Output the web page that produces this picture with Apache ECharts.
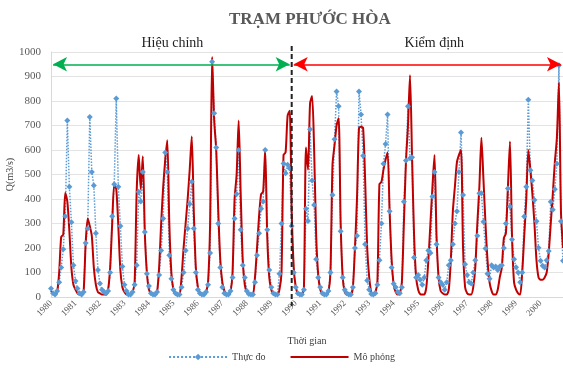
<!DOCTYPE html>
<html>
<head>
<meta charset="utf-8">
<script src="https://cdn.jsdelivr.net/npm/echarts@6/dist/echarts.min.js"></script>
<style>
  html, body { margin: 0; padding: 0; background: #fff; }
  #main { width: 563px; height: 368px; }
</style>
</head>
<body>
<div id="main"></div>
<script>
// nam quan trac (moi nam 12 thang)
var years = [1980, 1981, 1982, 1983, 1984, 1985, 1986, 1987, 1988, 1989, 1990,
             1991, 1992, 1993, 1994, 1995, 1996, 1997, 1998, 1999, 2000]
var monthNames = ['01', '02', '03', '04', '05', '06', '07', '08', '09', '10', '11', '12']

// luu luong thuc do Q (m3/s), tung thang
var observed = [
  35, 15, 10, 25, 60, 120, 195, 330, 720, 450, 305, 130,   // 1980
  65, 35, 15, 10, 20, 220, 280, 735, 510, 455, 260, 110,   // 1981
  55, 30, 20, 15, 25, 100, 330, 460, 810, 450, 290, 125,   // 1982
  50, 25, 10, 10, 20, 50, 130, 430, 390, 510, 265, 95,     // 1983
  45, 15, 10, 10, 20, 90, 190, 320, 590, 510, 170, 75,     // 1984
  30, 15, 10, 10, 40, 100, 190, 280, 380, 470, 280, 100,   // 1985
  30, 15, 10, 10, 20, 50, 180, 960, 750, 610, 300, 120,    // 1986
  40, 15, 10, 10, 25, 80, 320, 420, 600, 275, 130, 80,     // 1987
  25, 12, 10, 10, 60, 170, 260, 360, 390, 600, 275, 110,   // 1988
  40, 15, 10, 10, 95, 300, 545, 505, 540, 525, 290, 100,   // 1989
  40, 15, 10, 10, 30, 360, 310, 685, 476, 376, 154, 80,    // 1990
  40, 15, 10, 10, 25, 100, 416, 644, 839, 779, 268, 80,    // 1991
  30, 15, 10, 10, 40, 200, 250, 839, 745, 577, 215, 67,    // 1992
  30, 12, 10, 15, 50, 150, 300, 544, 624, 745, 350, 120,   // 1993
  54, 40, 20, 15, 40, 389, 557, 779, 566, 570, 161, 80,    // 1994
  90, 70, 50, 80, 150, 190, 180, 410, 510, 215, 80, 60,    // 1995
  50, 30, 60, 130, 150, 215, 300, 350, 510, 671, 416, 134, // 1996
  90, 60, 55, 100, 150, 250, 423, 423, 307, 198, 95, 75,   // 1997
  130, 120, 125, 110, 125, 130, 200, 300, 443, 369, 235, 154, // 1998
  121, 100, 60, 100, 329, 450, 805, 517, 476, 396, 309, 201,  // 1999
  148, 128, 120, 150, 188, 389, 356, 440, 544, 946, 309, 148  // 2000
]

// luu luong mo phong Q (m3/s)
var simulated = [
  25, 15, 10, 20, 100, 245, 255, 425, 390, 270, 120, 50,   // 1980
  30, 15, 10, 10, 25, 220, 320, 290, 250, 120, 50, 20,     // 1981
  15, 10, 10, 10, 30, 120, 300, 460, 440, 290, 110, 40,    // 1982
  20, 10, 10, 10, 20, 60, 430, 580, 440, 575, 260, 100,    // 1983
  30, 15, 10, 10, 20, 120, 300, 450, 560, 640, 300, 100,   // 1984
  30, 12, 10, 10, 80, 200, 300, 400, 520, 655, 350, 120,   // 1985
  40, 15, 10, 10, 20, 60, 300, 980, 720, 600, 350, 150,    // 1986
  60, 25, 12, 10, 20, 100, 400, 500, 720, 420, 150, 50,    // 1987
  20, 10, 10, 10, 80, 200, 330, 420, 430, 600, 250, 80,    // 1988
  30, 12, 10, 10, 30, 100, 580, 590, 740, 760, 350, 120,   // 1989
  40, 15, 10, 10, 40, 610, 520, 790, 820, 600, 250, 90,    // 1990
  30, 12, 10, 10, 20, 100, 540, 620, 700, 730, 300, 80,    // 1991
  20, 10, 10, 10, 40, 200, 400, 690, 695, 690, 480, 200,   // 1992
  80, 20, 10, 20, 60, 460, 470, 520, 560, 590, 350, 150,   // 1993
  50, 20, 10, 15, 60, 300, 550, 700, 905, 570, 250, 80,    // 1994
  30, 12, 10, 10, 40, 150, 300, 450, 580, 250, 80, 25,     // 1995
  15, 10, 10, 30, 150, 350, 450, 550, 580, 600, 200, 40,   // 1996
  15, 10, 10, 40, 120, 300, 450, 650, 480, 300, 150, 60,   // 1997
  25, 10, 10, 30, 80, 120, 240, 260, 450, 635, 250, 60,    // 1998
  30, 15, 10, 100, 250, 400, 600, 520, 420, 300, 150, 80,  // 1999
  70, 70, 80, 100, 180, 300, 420, 550, 650, 875, 350, 200  // 2000
]

// moc phan chia hieu chinh / kiem dinh va muc ve mui ten
var splitMonth = '1989-11'
var arrowLevel = 950
var calibRange = ['1980-02', '1989-10']
var validRange = ['1989-12', '2000-11']

var categories = []
years.forEach(function (y) {
  monthNames.forEach(function (m) { categories.push(y + '-' + m) })
})

var font = 'Liberation Serif'
var myChart = echarts.init(document.getElementById('main'))

myChart.setOption({
  animation: false,
  textStyle: { fontFamily: font },
  title: {
    text: 'TRẠM PHƯỚC HÒA',
    left: 224,
    top: 6,
    textStyle: { fontFamily: font, fontSize: 17, fontWeight: 'bold', color: '#595959' }
  },
  grid: { left: 51, right: 0, top: 52, bottom: 71, outerBoundsMode: 'none' },
  legend: {
    bottom: 1,
    left: 'center',
    itemWidth: 58,
    itemHeight: 8,
    itemGap: 24,
    data: [
      { name: 'Thực đo' },
      { name: 'Mô phỏng', itemStyle: { opacity: 0 } }  // chi hien duong, khong co cham
    ],
    textStyle: { fontFamily: font, fontSize: 10, color: '#404040' }
  },
  xAxis: {
    type: 'category',
    data: categories,
    boundaryGap: false,
    name: 'Thời gian',
    nameLocation: 'middle',
    nameGap: 39,
    nameMoveOverlap: false,
    nameTextStyle: { fontFamily: font, fontSize: 10, color: '#404040' },
    axisLine: { lineStyle: { color: '#d9d9d9' } },
    axisTick: { show: false },
    axisLabel: {
      interval: function (i) { return i % 12 === 0 },
      formatter: function (v) { return v.slice(0, 4) },
      rotate: 45,
      fontSize: 9,
      margin: 5,
      color: '#595959'
    },
    splitLine: { show: false }
  },
  yAxis: {
    type: 'value',
    min: 0,
    max: 1000,
    interval: 100,
    name: 'Q(m3/s)',
    nameLocation: 'middle',
    nameGap: 36,
    nameMoveOverlap: false,
    nameTextStyle: { fontFamily: font, fontSize: 10, color: '#404040' },
    axisLine: { show: true, lineStyle: { color: '#d9d9d9' } },
    axisTick: { show: false },
    axisLabel: {
      fontSize: 11,
      color: '#595959',
      margin: 10,
      formatter: function (v) { return String(v) }
    },
    splitLine: { lineStyle: { color: '#e3e3e3' } }
  },
  series: [
    {
      name: 'Thực đo',
      type: 'line',
      data: observed,
      symbol: 'diamond',
      symbolSize: 6,
      showAllSymbol: true,
      itemStyle: { color: '#5B9BD5' },
      lineStyle: { color: '#5B9BD5', width: 1.5, type: 'dotted' },
      markLine: {
        silent: true,
        symbol: ['arrow', 'arrow'],
        symbolSize: [11, 14],
        label: { show: false },
        data: [
          [{ coord: [calibRange[0], arrowLevel], lineStyle: { color: '#00B050', width: 1.5, type: 'solid' } },
           { coord: [calibRange[1], arrowLevel] }],
          [{ coord: [validRange[0], arrowLevel], lineStyle: { color: '#FF0000', width: 1.5, type: 'solid' } },
           { coord: [validRange[1], arrowLevel] }]
        ]
      }
    },
    {
      name: 'Mô phỏng',
      type: 'line',
      data: simulated,
      symbol: 'none',
      smooth: 0.25,
      itemStyle: { color: '#C00000' },
      lineStyle: { color: '#C00000', width: 2 }
    }
  ]
})

// duong net dut phan chia + nhan 2 giai doan
var splitX = myChart.convertToPixel({ xAxisIndex: 0 }, splitMonth)
var calibX = (myChart.convertToPixel({ xAxisIndex: 0 }, calibRange[0]) + splitX) / 2
var validX = (splitX + myChart.convertToPixel({ xAxisIndex: 0 }, validRange[1])) / 2
myChart.setOption({
  graphic: [
    {
      type: 'line',
      shape: { x1: splitX, y1: 46, x2: splitX, y2: 306 },
      style: { stroke: '#222', lineWidth: 2, lineDash: [5, 3] },
      z: 100
    },
    {
      type: 'text', x: calibX, y: 36,
      style: { text: 'Hiệu chỉnh', font: '14px ' + font, fill: '#222', textAlign: 'center' }
    },
    {
      type: 'text', x: validX + 8, y: 36,
      style: { text: 'Kiểm định', font: '14px ' + font, fill: '#222', textAlign: 'center' }
    }
  ]
})
</script>
</body>
</html>
